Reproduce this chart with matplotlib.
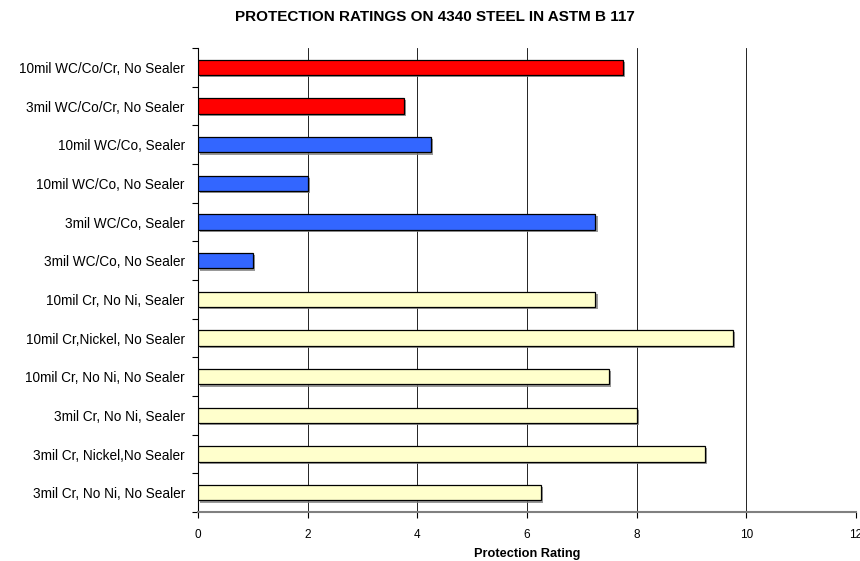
import numpy as np
import matplotlib.pyplot as plt
import matplotlib.patheffects as pe

labels = [
    "3mil Cr, No Ni, No Sealer",
    "3mil Cr, Nickel,No Sealer",
    "3mil Cr, No Ni, Sealer",
    "10mil Cr, No Ni, No Sealer",
    "10mil Cr,Nickel, No Sealer",
    "10mil Cr, No Ni, Sealer",
    "3mil WC/Co, No Sealer",
    "3mil WC/Co, Sealer",
    "10mil WC/Co, No Sealer",
    "10mil WC/Co, Sealer",
    "3mil WC/Co/Cr, No Sealer",
    "10mil WC/Co/Cr, No Sealer",
]
ratings = [6.25, 9.25, 8.0, 7.5, 9.75, 7.25, 1.0, 7.25, 2.0, 4.25, 3.75, 7.75]
colors = ["#FFFFCC"] * 6 + ["#3366FF"] * 4 + ["#FF0000"] * 2

plt.rcParams['font.family'] = ['Liberation Sans', 'DejaVu Sans']

fig = plt.figure(figsize=(8.6, 5.61), dpi=100)
ax = fig.add_axes([0.2302, 0.0873, 0.765, 0.827])

y = np.arange(len(labels))
bars = ax.barh(y, ratings, height=0.4, color=colors, edgecolor='black',
               linewidth=0.9, zorder=3)
for b in bars:
    b.set_path_effects([pe.SimplePatchShadow(offset=(1.5, -1.5), shadow_rgbFace='#808080', alpha=0.8),
                        pe.Normal()])

ax.set_xlim(0, 12)
ax.set_ylim(-0.5, len(labels) - 0.5)
ax.set_xticks(np.arange(0, 13, 2))
ax.set_yticks(y)
ax.set_yticklabels(labels, fontsize=9.8)
ax.set_yticks(np.arange(-0.5, len(labels), 1), minor=True)
ax.tick_params(axis='y', which='major', length=0, pad=9.5)
ax.tick_params(axis='y', which='minor', length=4, width=0.8, direction='out')
ax.tick_params(axis='x', length=4, width=0.8, labelsize=8.5, pad=8)
ax.xaxis.grid(True, color='black', linewidth=0.6, zorder=0)

ax.spines['top'].set_visible(False)
ax.spines['right'].set_visible(False)
ax.spines['left'].set_color('black')
ax.spines['left'].set_linewidth(0.8)
ax.spines['bottom'].set_color('#808080')
ax.spines['bottom'].set_linewidth(1.5)

ax.set_xlabel("Protection Rating", fontsize=9.2, fontweight='bold', labelpad=5)
fig.suptitle("PROTECTION RATINGS ON 4340 STEEL IN ASTM B 117", fontsize=11,
             fontweight='bold', x=0.506, y=0.982)

fig.savefig("out.png", dpi=100)
